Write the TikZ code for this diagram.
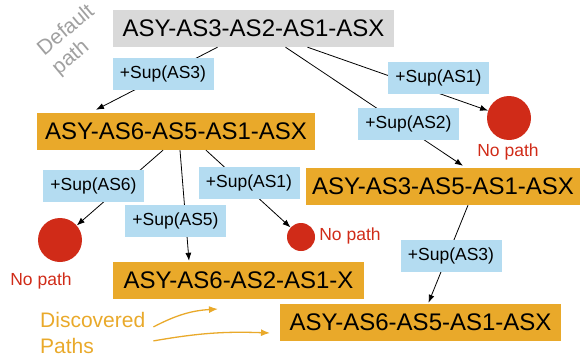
\documentclass[tikz,border=0pt]{standalone}
\usepackage{fontspec}
\setmainfont{Liberation Sans}
\usetikzlibrary{arrows.meta,calc}

\definecolor{dfltgrey}{RGB}{217,217,217}
\definecolor{pathorange}{RGB}{233,169,42}
\definecolor{supblue}{RGB}{180,220,241}
\definecolor{nored}{RGB}{208,43,24}
\definecolor{txtgrey}{RGB}{160,160,160}

\tikzset{
  pathbox/.style={fill=pathorange, minimum height=37pt, inner xsep=6pt, font=\fontsize{24}{24}\selectfont},
  supbox/.style={fill=supblue, minimum width=101pt, minimum height=32pt, inner sep=2pt, font=\fontsize{17.5}{17.5}\selectfont},
  nopath/.style={circle, fill=nored, inner sep=0pt},
  notext/.style={text=nored, font=\fontsize{17.5}{17.5}\selectfont},
  greytext/.style={text=txtgrey, rotate=40, inner sep=0pt, font=\fontsize{21}{21}\selectfont},
  edge/.style={-{Latex[length=8pt,width=6pt]}, line width=0.8pt},
}

\begin{document}
\begin{tikzpicture}[x=1pt,y=1pt,yscale=-1,xscale=1]
    \useasboundingbox (0,0) rectangle (581,364);

    % Path Nodes
    \node [pathbox, fill=dfltgrey, minimum width=281pt] (dflt) at (253.5,28.5) {ASY-AS3-AS2-AS1-ASX};
    \node [pathbox, minimum width=278pt] (p1) at (176,131.5) {ASY-AS6-AS5-AS1-ASX};
    \node [pathbox, minimum width=274pt] (p2) at (443,186.5) {ASY-AS3-AS5-AS1-ASX};
    \node [pathbox, minimum width=251pt] (p3) at (238.5,280.5) {ASY-AS6-AS2-AS1-X};
    \node [pathbox, minimum width=281pt] (p4) at (420.5,322.5) {ASY-AS6-AS5-AS1-ASX};

    % Dead Ends
    \node [nopath, minimum size=44pt] (nope1) at (509,118) {};
    \node [nopath, minimum size=44pt] (nope2) at (60,240) {};
    \node [nopath, minimum size=28pt] (nope3) at (301,237) {};

    % Text Node
    \node [notext] (nt1) at (508,152) {No path};
    % Text Node
    \node [notext] (nt2) at (41,281) {No path};
    % Text Node
    \node [notext] (nt3) at (350,236) {No path};
    % Text Node
    \node [greytext] (dtxt1) at (65,29) {Default};
    % Text Node
    \node [greytext] (dtxt2) at (71,58) {path};

    % Connectors
    \draw [edge] ([xshift=-36pt]dflt.south) -- ([xshift=-80pt,yshift=-3pt]p1.north)
        node [supbox] at (163,74) {+Sup(AS3)};
    \draw [edge] ([xshift=54pt]dflt.south) -- (nope1)
        node [supbox] at (438.5,77.5) {+Sup(AS1)};
    \draw [edge] ([xshift=32pt]dflt.south) -- ([xshift=20pt,yshift=-2pt]p2.north)
        node [supbox] at (408.5,123.5) {+Sup(AS2)};
    \draw [edge] ([xshift=-13pt]p1.south) -- (nope2)
        node [supbox] at (93.5,186) {+Sup(AS6)};
    \draw [edge] ([xshift=4pt]p1.south) -- ([xshift=-49.5pt,yshift=-1pt]p3.north)
        node [supbox] at (175.5,221) {+Sup(AS5)};
    \draw [edge] ([xshift=30pt]p1.south) -- (nope3)
        node [supbox] at (249,183) {+Sup(AS1)};
    \draw [edge] ([xshift=25pt]p2.south) -- ([xshift=8pt,yshift=-1pt]p4.north)
        node [supbox] at (451,256) {+Sup(AS3)};

    % Discovered Paths
    \node [text=pathorange, align=left, anchor=north west, inner sep=0pt, font=\fontsize{21}{26}\selectfont] (disc) at (40,312) {Discovered\\Paths};
    \coordinate (d1) at (218,309);
    \coordinate (d2) at (270,333);
    \draw [-{Latex[length=9pt,width=7pt]}, pathorange, line width=1.3pt] ([xshift=8pt,yshift=-6pt]disc.east) to [bend right=12] (d1);
    \draw [-{Latex[length=9pt,width=7pt]}, pathorange, line width=1.3pt] ([xshift=8pt,yshift=8pt]disc.east) to [bend right=6] (d2);
\end{tikzpicture}
\end{document}
